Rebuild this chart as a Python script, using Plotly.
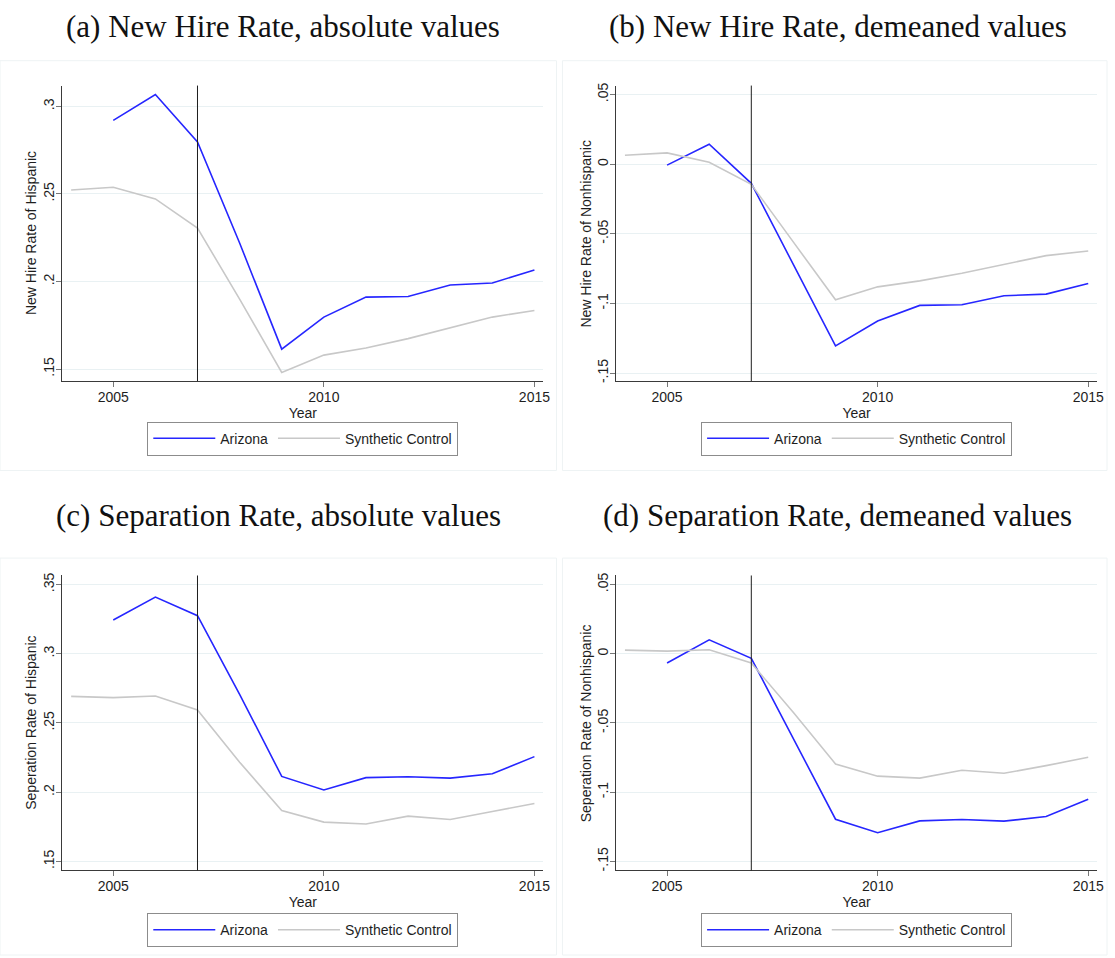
import plotly.graph_objects as go

# ---- data -------------------------------------------------------------
years_az = list(range(2005, 2016))
years_sc = list(range(2004, 2016))
treat_year = 2007

hire_abs_az = [0.292, 0.3068, 0.2797, 0.2220, 0.1614, 0.1797, 0.1911, 0.1915, 0.1980, 0.1992, 0.2066]
hire_abs_sc = [0.2523, 0.2538, 0.2472, 0.2305, 0.1900, 0.1481, 0.1580, 0.1620, 0.1674, 0.1735, 0.1797, 0.1835]

hire_dm_az = [-0.0007, 0.0143, -0.0138, -0.0720, -0.1305, -0.1126, -0.1014, -0.1010, -0.0945, -0.0933, -0.0857]
hire_dm_sc = [0.0064, 0.0081, 0.0014, -0.0145, -0.0560, -0.0974, -0.0881, -0.0838, -0.0783, -0.0721, -0.0657, -0.0624]

sep_abs_az = [0.3244, 0.3409, 0.3275, 0.2707, 0.2114, 0.2016, 0.2105, 0.2112, 0.2102, 0.2133, 0.2257]
sep_abs_sc = [0.2692, 0.2683, 0.2695, 0.2594, 0.2217, 0.1868, 0.1784, 0.1770, 0.1827, 0.1803, 0.1861, 0.1918]

sep_dm_az = [-0.0067, 0.0100, -0.0033, -0.0617, -0.1195, -0.1293, -0.1207, -0.1197, -0.1209, -0.1176, -0.1051]
sep_dm_sc = [0.0026, 0.0019, 0.0029, -0.0067, -0.0425, -0.0796, -0.0884, -0.0898, -0.0841, -0.0863, -0.0808, -0.0748]

panel_titles = [
    "(a) New Hire Rate, absolute values",
    "(b) New Hire Rate, demeaned values",
    "(c) Separation Rate, absolute values",
    "(d) Separation Rate, demeaned values",
]
y_titles = [
    "New Hire Rate of Hispanic",
    "New Hire Rate of Nonhispanic",
    "Seperation Rate of Hispanic",
    "Seperation Rate of Nonhispanic",
]
abs_tickvals = [0.15, 0.2, 0.25, 0.3, 0.35]
abs_ticktext = [".15", ".2", ".25", ".3", ".35"]
dm_tickvals = [-0.15, -0.1, -0.05, 0.0, 0.05]
dm_ticktext = ["-.15", "-.1", "-.05", "0", ".05"]
x_tickvals = [2005, 2010, 2015]
series_names = ["Arizona", "Synthetic Control"]

# ---- styling / geometry ----------------------------------------------
W, H = 1115, 958
AZ_COLOR = "#2626ff"
SC_COLOR = "#c8c8c8"
AXIS_COLOR = "#3a3a3a"
GRID_COLOR = "#e9f1f3"
TEXT_COLOR = "#1e1e1e"
SANS = "Liberation Sans, Arial, sans-serif"
SERIF = "Liberation Serif, Times New Roman, serif"


def px_x(v):
    return v / W


def px_y(v):
    return 1 - v / H


panels = [
    dict(az=hire_abs_az, sc=hire_abs_sc, tv=abs_tickvals[:4], tt=abs_ticktext[:4],
         yr=[0.1432, 0.3119], xd=[62.7, 546.7], yd=[380, 83]),
    dict(az=hire_dm_az, sc=hire_dm_sc, tv=dm_tickvals, tt=dm_ticktext,
         yr=[-0.1557, 0.0564], xd=[620, 1104], yd=[380, 83]),
    dict(az=sep_abs_az, sc=sep_abs_sc, tv=abs_tickvals, tt=abs_ticktext,
         yr=[0.1435, 0.3565], xd=[62.7, 546.7], yd=[872, 575.5]),
    dict(az=sep_dm_az, sc=sep_dm_sc, tv=dm_tickvals, tt=dm_ticktext,
         yr=[-0.1565, 0.0565], xd=[620, 1104], yd=[872, 575.5]),
]
title_pos = [(285, 24), (843.5, 24), (280, 515), (843, 515)]
ytitle_x = [31, 590, 31, 590]
legend_pos = [(304.7, 438), (862, 438), (304.7, 932), (862, 932)]
panel_boxes = [(0, 58, 560, 470), (566, 58, 1114, 470), (0, 558, 560, 957), (566, 558, 1114, 957)]

fig = go.Figure()
layout = dict(
    width=W, height=H,
    margin=dict(l=0, r=0, t=0, b=0),
    paper_bgcolor="white", plot_bgcolor="white",
    font=dict(family=SANS, size=14, color=TEXT_COLOR),
    annotations=[], shapes=[],
)

for i, p in enumerate(panels):
    n = i + 1
    xa = "x" if n == 1 else f"x{n}"
    ya = "y" if n == 1 else f"y{n}"
    leg = "legend" if n == 1 else f"legend{n}"

    fig.add_trace(go.Scatter(
        x=years_az, y=p["az"], mode="lines", name=series_names[0],
        line=dict(color=AZ_COLOR, width=1.6), xaxis=xa, yaxis=ya, legend=leg,
    ))
    fig.add_trace(go.Scatter(
        x=years_sc, y=p["sc"], mode="lines", name=series_names[1],
        line=dict(color=SC_COLOR, width=1.6), xaxis=xa, yaxis=ya, legend=leg,
    ))

    xkey = "xaxis" if n == 1 else f"xaxis{n}"
    ykey = "yaxis" if n == 1 else f"yaxis{n}"
    layout[xkey] = dict(
        domain=[px_x(p["xd"][0]), px_x(p["xd"][1])],
        anchor=ya, range=[2003.79, 2015.21],
        tickmode="array", tickvals=x_tickvals,
        ticks="outside", ticklen=5, tickcolor="#777777", tickwidth=1,
        ticklabelstandoff=-2,
        showline=True, linecolor=AXIS_COLOR, linewidth=1,
        showgrid=False, zeroline=False,
        tickfont=dict(family=SANS, size=14, color=TEXT_COLOR),
        title=dict(text="Year", font=dict(family=SANS, size=14, color=TEXT_COLOR), standoff=0),
    )
    layout[ykey] = dict(
        domain=[px_y(p["yd"][0]), px_y(p["yd"][1])],
        anchor=xa, range=p["yr"],
        tickmode="array", tickvals=p["tv"], ticktext=p["tt"], tickangle=-90,
        ticks="outside", ticklen=5, tickcolor="#777777", tickwidth=1,
        ticklabelstandoff=-3,
        showline=True, linecolor=AXIS_COLOR, linewidth=1,
        showgrid=True, gridcolor=GRID_COLOR, gridwidth=1, zeroline=False,
        tickfont=dict(family=SANS, size=14, color=TEXT_COLOR),
    )

    # y-axis title, placed beside the rotated tick labels
    layout["annotations"].append(dict(
        text=y_titles[i], xref="paper", yref="paper",
        x=px_x(ytitle_x[i]), y=px_y((p["yd"][0] + p["yd"][1]) / 2),
        xanchor="center", yanchor="middle", textangle=-90, showarrow=False,
        font=dict(family=SANS, size=14, color=TEXT_COLOR),
    ))

    lx, ly = legend_pos[i]
    layout[leg] = dict(
        orientation="h", x=px_x(lx), y=px_y(ly), xanchor="center", yanchor="middle",
        bordercolor="#8c8c8c", borderwidth=1, bgcolor="white",
        font=dict(family=SANS, size=14, color=TEXT_COLOR),
        entrywidth=0, itemwidth=62,
    )

    # treatment year marker
    layout["shapes"].append(dict(
        type="line", xref=xa, yref=f"{ya} domain", x0=treat_year, x1=treat_year, y0=0, y1=1,
        line=dict(color="#1e1e1e", width=1),
    ))
    # faint frame around each graph region
    bx0, by0, bx1, by1 = panel_boxes[i]
    layout["shapes"].append(dict(
        type="rect", xref="paper", yref="paper",
        x0=px_x(bx0), x1=px_x(bx1), y0=px_y(by1), y1=px_y(by0),
        line=dict(color="#eef3f4", width=1), layer="below",
    ))

    tx, ty = title_pos[i]
    layout["annotations"].append(dict(
        text=panel_titles[i], xref="paper", yref="paper", x=px_x(tx), y=px_y(ty),
        xanchor="center", yanchor="middle", showarrow=False,
        font=dict(family=SERIF, size=31, color="#111111"),
    ))

fig.update_layout(**layout)
fig.write_html("out.html")
